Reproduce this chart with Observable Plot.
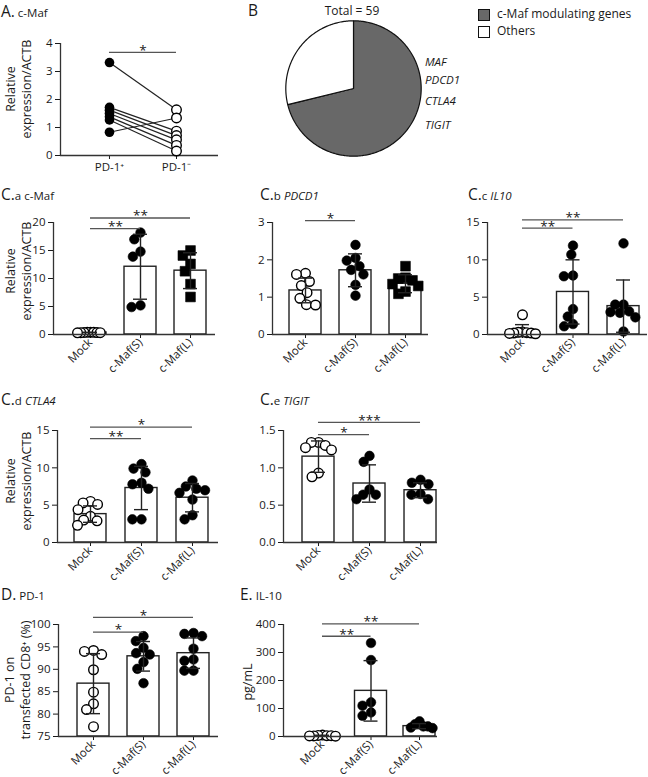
<!DOCTYPE html>
<html><head><meta charset="utf-8">
<script src="https://cdn.jsdelivr.net/npm/d3@7"></script>
<script src="https://cdn.jsdelivr.net/npm/@observablehq/plot@0.6"></script>
<style>
body{margin:0;background:#fff;}
#root{position:relative;width:648px;height:777px;overflow:hidden;font-family:"Open Sans",sans-serif;color:#1a1a1a;background:#fff;}
.t{position:absolute;white-space:nowrap;line-height:1.2;}
</style></head><body><div id="root"></div>
<script>
// ---------- data ----------
const groupNames = ["Mock", "c-Maf(S)", "c-Maf(L)"];
const pairNames = ["PD-1⁺", "PD-1⁻"];

// A. c-Maf, paired PD-1+ / PD-1-
const mafPD1pos = [3.32, 1.72, 1.62, 1.50, 1.38, 1.27, 0.83];
const mafPD1neg = [1.63, 0.87, 0.71, 0.56, 0.36, 0.16, 1.34];
const aTicks = [0, 1, 2, 3, 4];
const aSig = [{from: 0, to: 1, y: 3.68, label: "*"}];

// B. pie
const pieNames = ["c-Maf modulating genes", "Others"];
const pieCounts = [42, 17];
const pieColors = ["#686868", "#ffffff"];
const pieGenes = ["MAF", "PDCD1", "CTLA4", "TIGIT"];

// C.a c-Maf
const mafMock = [0.42, 0.40, 0.38, 0.36, 0.35, 0.33, 0.32, 0.30];
const mafS = [18.2, 17.0, 14.8, 13.9, 5.2, 4.9];
const mafL = [15.0, 14.1, 12.6, 11.3, 9.0, 6.7];
const mafMean = [0.36, 12.1, 11.4];
const mafSD = [0.04, 5.8, 3.2];
const mafTicks = [0, 5, 10, 15, 20];
const mafSig = [{to: 1, y: 18.9, label: "**"}, {to: 2, y: 20.8, label: "**"}];

// C.b PDCD1
const pdcd1Mock = [1.64, 1.61, 1.42, 1.31, 1.12, 0.97, 0.80, 0.79];
const pdcd1S = [2.40, 2.05, 1.98, 1.83, 1.73, 1.61, 1.33, 1.04];
const pdcd1L = [1.83, 1.52, 1.50, 1.45, 1.35, 1.30, 1.15, 1.09];
const pdcd1Mean = [1.18, 1.72, 1.36];
const pdcd1SD = [0.33, 0.44, 0.24];
const pdcd1Ticks = [0, 1, 2, 3];
const pdcd1Sig = [{to: 1, y: 3.05, label: "*"}];

// C.c IL10
const il10Mock = [2.64, 0.35, 0.30, 0.25, 0.20, 0.20, 0.15, 0.10];
const il10S = [11.9, 10.7, 7.9, 7.8, 3.4, 2.4, 1.4, 1.1];
const il10L = [12.2, 4.0, 4.0, 3.1, 3.0, 2.9, 2.3, 0.4];
const il10Mean = [0.52, 5.7, 3.8];
const il10SD = [0.8, 4.3, 3.5];
const il10Ticks = [0, 5, 10, 15];
const il10Sig = [{to: 1, y: 14.24, label: "**"}, {to: 2, y: 15.36, label: "**"}];

// C.d CTLA4
const ctla4Mock = [5.5, 5.3, 5.1, 4.4, 3.5, 3.0, 2.9, 2.3];
const ctla4S = [10.5, 9.9, 9.4, 8.0, 7.8, 7.2, 3.1, 3.1];
const ctla4L = [8.3, 7.5, 7.2, 7.0, 6.65, 5.75, 3.65, 3.1];
const ctla4Mean = [3.8, 7.3, 6.0];
const ctla4SD = [1.1, 2.9, 1.9];
const ctla4Ticks = [0, 5, 10, 15];
const ctla4Sig = [{to: 1, y: 13.9, label: "**"}, {to: 2, y: 15.45, label: "*"}];

// C.e TIGIT
const tigitMock = [1.34, 1.34, 1.30, 1.27, 1.24, 0.93, 0.88];
const tigitS = [1.16, 1.08, 0.71, 0.64, 0.64, 0.58];
const tigitL = [0.84, 0.80, 0.78, 0.65, 0.64, 0.58];
const tigitMean = [1.15, 0.79, 0.70];
const tigitSD = [0.21, 0.25, 0.10];
const tigitTicks = [0, 0.5, 1.0, 1.5];
const tigitSig = [{to: 1, y: 1.446, label: "*"}, {to: 2, y: 1.61, label: "***"}];

// D. PD-1
const pd1Mock = [94.2, 94.0, 93.3, 89.9, 84.9, 82.3, 81.0, 77.2];
const pd1S = [97.4, 96.3, 94.8, 93.6, 93.3, 91.6, 90.1, 86.9];
const pd1L = [98.1, 97.9, 97.4, 94.6, 92.2, 91.9, 89.7, 89.7];
const pd1Mean = [86.8, 92.9, 93.6];
const pd1SD = [6.7, 3.3, 3.4];
const pd1Ticks = [75, 80, 85, 90, 95, 100];
const pd1Sig = [{to: 1, y: 98.3, label: "*"}, {to: 2, y: 101.6, label: "*"}];

// E. IL-10 (pg/mL)
const il10pgMock = [5, 4, 3, 3, 2, 2, 1];
const il10pgS = [334, 273, 122, 110, 86, 74];
const il10pgL = [54, 44, 36, 36, 32, 30];
const il10pgMean = [3, 163, 37];
const il10pgSD = [1.5, 108, 9];
const il10pgTicks = [0, 100, 200, 300, 400];
const il10pgSig = [{to: 1, y: 358, label: "**"}, {to: 2, y: 402, label: "**"}];

// ---------- helpers ----------
const root = document.getElementById("root");
const FONT = '"Open Sans", sans-serif';
const INK = "#1a1a1a";
const R = 4.8;
const intFmt = d3.format("d");

function place(el, left, top) {
  el.style.position = "absolute";
  el.style.left = left + "px";
  el.style.top = top + "px";
  root.appendChild(el);
}
// line-height 1.2 => baseline at (1.2-1.362)/2*fs + 1.069*fs = 0.988*fs from top
function addText(html, left, baseline, fs, extra = {}) {
  const d = document.createElement("div");
  d.className = "t";
  d.innerHTML = html;
  d.style.fontSize = fs + "px";
  d.style.left = left + "px";
  d.style.top = (baseline - 0.988 * fs) + "px";
  Object.assign(d.style, extra);
  root.appendChild(d);
  return d;
}
function title(left, baseline, big, small) {
  addText(`${big}<span style="font-size:11.5px">${small}</span>`, left, baseline, 15.5);
}
function vlabel(lines, cx, cy, fs = 12.5) {
  const d = document.createElement("div");
  const h = lines.length * 16;
  d.innerHTML = lines.join("<br>");
  Object.assign(d.style, {
    position: "absolute", width: "200px", height: h + "px", left: (cx - 100) + "px", top: (cy - h / 2) + "px",
    textAlign: "center", lineHeight: "16px", fontSize: fs + "px", transform: "rotate(-90deg)", whiteSpace: "nowrap"
  });
  root.appendChild(d);
}
function swarm(vals, k, r, maxHalf) {
  const d = 2 * r * 0.95;
  const order = vals.map((v, i) => i).sort((a, b) => vals[b] - vals[a]);
  const placed = [];
  const off = new Array(vals.length).fill(0);
  for (const i of order) {
    const y = vals[i] * k;
    const cands = [0];
    for (const p of placed) {
      const dy = y - p.y;
      if (Math.abs(dy) < d) { const dx = Math.sqrt(d * d - dy * dy); cands.push(p.x + dx, p.x - dx); }
    }
    cands.sort((a, b) => Math.abs(a) - Math.abs(b) || a - b);
    const x = cands.find(c => placed.every(p => (p.x - c) ** 2 + (p.y - y) ** 2 >= d * d - 1e-6));
    placed.push({x, y});
    off[i] = x;
  }
  const m = d3.max(off, Math.abs);
  if (m > maxHalf) off.forEach((o, i) => off[i] = o * maxHalf / m);
  return off;
}
const baseStyle = {fontFamily: FONT, fontSize: "11.5px", color: INK, background: "transparent", overflow: "visible"};

function sigMarks(sig) {
  return [
    Plot.ruleY(sig, {y: "y", x1: d => d.from ?? 0, x2: "to", stroke: "#555", strokeWidth: 1.3}),
    Plot.text(sig, {x: d => ((d.from ?? 0) + d.to) / 2, y: "y", text: "label", dy: -2, lineAnchor: "middle", fontSize: 13.5, fill: INK})
  ];
}

function barPanel(o) {
  const fw = o.width - o.mL - o.mR, fh = o.height - o.mT - o.mB;
  const pxX = fw / (o.xDom[1] - o.xDom[0]);
  const pxY = fh / (o.yDom[1] - o.yDom[0]);
  const hw = 16 / pxX, cw = 7 / pxX;
  const stats = o.means.map((m, g) => ({g, m, lo: m - o.sds[g], hi: m + o.sds[g]}));
  const dotMarks = o.groups.map((vals, g) => {
    const offs = swarm(vals, pxY, R, 13);
    const data = vals.map((v, j) => ({x: g + offs[j] / pxX, v}));
    const square = o.squares && g === 2;
    return Plot.dot(data, {
      x: "x", y: "v", r: square ? 5.5 : R, symbol: square ? "square" : "circle",
      fill: g === 0 ? "white" : "black", stroke: "black", strokeWidth: g === 0 ? 1.4 : 0.6
    });
  });
  const svg = Plot.plot({
    width: o.width, height: o.height,
    marginLeft: o.mL, marginRight: o.mR, marginTop: o.mT, marginBottom: o.mB,
    style: baseStyle,
    x: {domain: o.xDom, ticks: [0, 1, 2], tickFormat: i => groupNames[i], tickRotate: -45, tickSize: 4, tickPadding: 2, label: null},
    y: {domain: o.yDom, ticks: o.yTicks, tickFormat: o.yFmt ?? intFmt, tickSize: 5, tickPadding: 3, label: null},
    marks: [
      Plot.rectY(stats, {x1: d => d.g - hw, x2: d => d.g + hw, y1: () => o.yDom[0], y2: "m", fill: "white", stroke: "#222", strokeWidth: 1.4}),
      ...dotMarks,
      Plot.ruleX(stats, {x: "g", y1: "lo", y2: "hi", stroke: "#222", strokeWidth: 1.4}),
      Plot.ruleY(stats, {y: "hi", x1: d => d.g - cw, x2: d => d.g + cw, stroke: "#222", strokeWidth: 1.4}),
      Plot.ruleY(stats, {y: "lo", x1: d => d.g - cw, x2: d => d.g + cw, stroke: "#222", strokeWidth: 1.4}),
      Plot.ruleX([o.xDom[0]], {stroke: "#333", strokeWidth: 1.3}),
      Plot.ruleY([o.yDom[0]], {stroke: "#333", strokeWidth: 1.3}),
      ...sigMarks(o.sig)
    ]
  });
  place(svg, o.left, o.top);
}

// ---------- Panel A ----------
{
  const pairs = mafPD1pos.map((p, i) => ({p, n: mafPD1neg[i]}));
  const xDom = [-0.731, 1.627];
  const svg = Plot.plot({
    width: 220, height: 160, marginLeft: 60, marginRight: 2, marginTop: 23, marginBottom: 25,
    style: baseStyle,
    x: {domain: xDom, ticks: [0, 1], tickFormat: i => pairNames[i], tickSize: 4, tickPadding: 3, label: null},
    y: {domain: [0, 4], ticks: aTicks, tickFormat: intFmt, tickSize: 5, tickPadding: 3, label: null},
    marks: [
      Plot.ruleX([xDom[0]], {stroke: "#333", strokeWidth: 1.3}),
      Plot.ruleY([0], {stroke: "#333", strokeWidth: 1.3}),
      Plot.link(pairs, {x1: () => 0, y1: "p", x2: () => 1, y2: "n", stroke: "#222", strokeWidth: 1.2}),
      Plot.dot(pairs, {x: () => 0, y: "p", r: R, fill: "black"}),
      Plot.dot(pairs, {x: () => 1, y: "n", r: R, fill: "white", stroke: "black", strokeWidth: 1.4}),
      ...sigMarks(aSig)
    ]
  });
  place(svg, 0, 20);
  title(1, 17, "A.", " c-Maf");
  vlabel(["Relative", "expression/ACTB"], 18.7, 89);
}

// ---------- Panel B (pie) ----------
{
  const arcs = d3.pie().sort(null)(pieCounts);
  const marks = arcs.map((a, i) => {
    const n = Math.max(2, Math.ceil((a.endAngle - a.startAngle) * 180 / Math.PI));
    const pts = [{x: 0, y: 0}];
    for (let k = 0; k <= n; k++) {
      const t = a.startAngle + (a.endAngle - a.startAngle) * k / n;
      pts.push({x: Math.sin(t), y: Math.cos(t)});
    }
    return Plot.line(pts, {x: "x", y: "y", curve: "linear-closed", fill: pieColors[i], stroke: "#111", strokeWidth: 1.2});
  });
  const svg = Plot.plot({
    width: 140, height: 140, margin: 2.3, style: baseStyle,
    x: {domain: [-1, 1], axis: null}, y: {domain: [-1, 1], axis: null},
    marks
  });
  place(svg, 283, 18);
  addText("B", 248, 16, 15.5);
  addText(`Total = ${d3.sum(pieCounts)}`, 252, 16, 12, {width: "200px", textAlign: "center"});
  const geneY = [66, 84, 105, 129];
  pieGenes.forEach((g, i) => addText(g, 425, geneY[i], 11.5, {fontStyle: "italic"}));
  pieNames.forEach((name, i) => {
    const box = document.createElement("div");
    Object.assign(box.style, {position: "absolute", left: "478px", top: (9 + i * 16.5) + "px", width: "10px", height: "10px",
      background: pieColors[i], border: "1px solid #111"});
    root.appendChild(box);
    addText(name, 497, 19 + i * 16.5, 12);
  });
}

// ---------- Panels C ----------
barPanel({left: 0, top: 200, width: 220, height: 178, mL: 53, mR: 5, mT: 22, mB: 44,
  xDom: [-0.74, 2.5], yDom: [0, 20], yTicks: mafTicks, groups: [mafMock, mafS, mafL], means: mafMean, sds: mafSD, squares: true, sig: mafSig});
title(1, 200, "C.", "a c-Maf");
vlabel(["Relative", "expression/ACTB"], 18.7, 271);

barPanel({left: 215, top: 200, width: 215, height: 178, mL: 57, mR: 2, mT: 22, mB: 44,
  xDom: [-0.66, 2.46], yDom: [0, 3], yTicks: pdcd1Ticks, groups: [pdcd1Mock, pdcd1S, pdcd1L], means: pdcd1Mean, sds: pdcd1SD, squares: true, sig: pdcd1Sig});
title(260, 200, "C.", "b <i>PDCD1</i>");

barPanel({left: 430, top: 200, width: 218, height: 178, mL: 57, mR: 1, mT: 22, mB: 44,
  xDom: [-0.693, 2.475], yDom: [0, 15], yTicks: il10Ticks, groups: [il10Mock, il10S, il10L], means: il10Mean, sds: il10SD, sig: il10Sig});
title(468, 200, "C.", "c <i>IL10</i>");

barPanel({left: 0, top: 405, width: 220, height: 178, mL: 57, mR: 2, mT: 25, mB: 41,
  xDom: [-0.647, 2.51], yDom: [0, 15], yTicks: ctla4Ticks, groups: [ctla4Mock, ctla4S, ctla4L], means: ctla4Mean, sds: ctla4SD, sig: ctla4Sig});
title(1, 405, "C.", "d <i>CTLA4</i>");
vlabel(["Relative", "expression/ACTB"], 18.7, 481);

barPanel({left: 215, top: 405, width: 222, height: 178, mL: 68, mR: 0, mT: 25, mB: 41,
  xDom: [-0.686, 2.333], yDom: [0, 1.5], yTicks: tigitTicks, yFmt: d3.format(".1f"), groups: [tigitMock, tigitS, tigitL], means: tigitMean, sds: tigitSD, sig: tigitSig});
title(260, 405, "C.", "e <i>TIGIT</i>");

// ---------- Panel D ----------
barPanel({left: 0, top: 600, width: 220, height: 177, mL: 58, mR: 2, mT: 24, mB: 41,
  xDom: [-0.7, 2.5], yDom: [75, 100], yTicks: pd1Ticks, groups: [pd1Mock, pd1S, pd1L], means: pd1Mean, sds: pd1SD, sig: pd1Sig});
title(1, 600, "D.", " PD-1");
vlabel(["PD-1 on", "transfected CD8⁺ (%)"], 18.3, 680);

// ---------- Panel E ----------
barPanel({left: 215, top: 600, width: 222, height: 177, mL: 68, mR: 0, mT: 24, mB: 41,
  xDom: [-0.804, 2.371], yDom: [0, 400], yTicks: il10pgTicks, groups: [il10pgMock, il10pgS, il10pgL], means: il10pgMean, sds: il10pgSD, sig: il10pgSig});
title(240, 600, "E.", " IL-10");
vlabel(["pg/mL"], 248, 682);
</script></body></html>
